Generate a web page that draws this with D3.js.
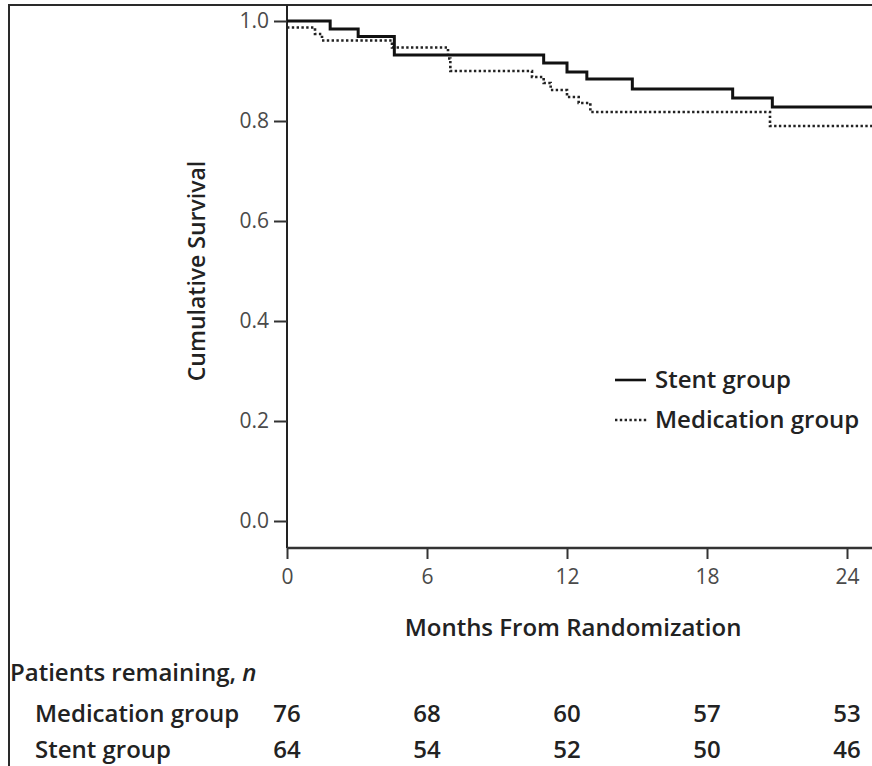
<!DOCTYPE html>
<html>
<head>
<meta charset="utf-8">
<script src="https://cdn.jsdelivr.net/npm/d3@7"></script>
<style>
  html, body { margin: 0; padding: 0; background: #fff; }
  svg { display: block; font-family: "Open Sans", Lato, sans-serif; }
</style>
</head>
<body>
<svg id="chart" width="872" height="766"></svg>
<script>
// Kaplan-Meier survival estimates (time in months, cumulative survival)
const monthTicks = [0, 6, 12, 18, 24];
const survivalTicks = [0, 0.2, 0.4, 0.6, 0.8, 1.0];

const stentTimes    = [0, 1.85, 3.05, 4.6, 11.0, 12.0, 12.85, 14.8, 19.1, 20.8];
const stentSurvival = [1.0, 0.984, 0.969, 0.932, 0.916, 0.898, 0.884, 0.864, 0.846, 0.828];

const medTimes    = [0, 1.2, 1.5, 4.5, 6.9, 7.0, 10.5, 11.0, 11.3, 12.0, 12.5, 13.0, 20.7];
const medSurvival = [0.987, 0.974, 0.961, 0.947, 0.925, 0.90, 0.888, 0.876, 0.862, 0.848, 0.836, 0.818, 0.79];

const followUpEnd = 25.2;

// Number at risk table
const groupNames = ["Medication group", "Stent group"];
const medicationAtRisk = [76, 68, 60, 57, 53];
const stentAtRisk = [64, 54, 52, 50, 46];

const W = 872, H = 766;
const svg = d3.select("#chart");
const FONT = "'Open Sans', Lato, sans-serif";

const x = d3.scaleLinear().domain([0, 24]).range([287, 847]);
const y = d3.scaleLinear().domain([0, 1]).range([521, 21]);
const axisTop = 5, axisY = 548;

// frame
svg.append("path")
  .attr("d", `M9,${H}V5H${W}`)
  .attr("fill", "none").attr("stroke", "#2a2a2a").attr("stroke-width", 2);

// y axis
const gy = svg.append("g").attr("transform", `translate(${x(0)},0)`)
  .call(d3.axisLeft(y).tickValues(survivalTicks).tickFormat(d3.format(".1f"))
        .tickSize(13).tickSizeOuter(0).tickPadding(5));
gy.select(".domain").attr("d", `M0,${axisTop}V${axisY}`)
  .attr("stroke", "#222").attr("stroke-width", 2);
gy.selectAll(".tick line").attr("stroke", "#333").attr("stroke-width", 2);
gy.selectAll(".tick text").attr("font-size", 21).attr("fill", "#4a4a4a")
  .attr("font-family", FONT);

// x axis
const gx = svg.append("g").attr("transform", `translate(0,${axisY})`)
  .call(d3.axisBottom(x).tickValues(monthTicks).tickSize(11).tickSizeOuter(0).tickPadding(10));
gx.select(".domain").attr("d", `M${x(0)},0H${W}`)
  .attr("stroke", "#333").attr("stroke-width", 2.6);
gx.selectAll(".tick line").attr("stroke", "#333").attr("stroke-width", 2);
gx.selectAll(".tick text").attr("font-size", 21).attr("fill", "#4a4a4a")
  .attr("font-family", FONT);

// axis titles
svg.append("text")
  .attr("transform", `translate(205,${y(0.5)}) rotate(-90)`)
  .attr("text-anchor", "middle")
  .attr("font-size", 23).attr("font-weight", 600).attr("fill", "#222")
  .text("Cumulative Survival");

svg.append("text")
  .attr("x", (x(0) + x(24)) / 2 + 6).attr("y", 636)
  .attr("text-anchor", "middle")
  .attr("font-size", 24).attr("font-weight", 600).attr("fill", "#222")
  .text("Months From Randomization");

// survival curves
const steps = (times, surv) => {
  const pts = times.map((t, i) => [t, surv[i]]);
  pts.push([followUpEnd, surv[surv.length - 1]]);
  return pts;
};
const line = d3.line().x(d => x(d[0])).y(d => y(d[1])).curve(d3.curveStepAfter);

svg.append("path").datum(steps(medTimes, medSurvival))
  .attr("d", line).attr("fill", "none")
  .attr("stroke", "#222").attr("stroke-width", 2.6).attr("stroke-dasharray", "2.4,2.4");

svg.append("path").datum(steps(stentTimes, stentSurvival))
  .attr("d", line).attr("fill", "none")
  .attr("stroke", "#111").attr("stroke-width", 3);

// legend
const legend = svg.append("g").attr("transform", "translate(615,380)");
legend.append("line").attr("x1", 0).attr("x2", 31).attr("y1", 0).attr("y2", 0)
  .attr("stroke", "#111").attr("stroke-width", 2.6);
legend.append("line").attr("x1", 0).attr("x2", 33).attr("y1", 40).attr("y2", 40)
  .attr("stroke", "#222").attr("stroke-width", 2.4).attr("stroke-dasharray", "2.4,2.4");
legend.append("text").attr("x", 40).attr("y", 8)
  .attr("font-size", 24).attr("font-weight", 600).attr("fill", "#222").text("Stent group");
legend.append("text").attr("x", 40).attr("y", 48)
  .attr("font-size", 24).attr("font-weight", 600).attr("fill", "#222").text("Medication group");

// numbers at risk
const risk = svg.append("g");
const title = risk.append("text").attr("x", 10).attr("y", 681)
  .attr("font-size", 24).attr("font-weight", 600).attr("fill", "#222");
title.append("tspan").text("Patients remaining, ");
title.append("tspan").attr("font-style", "italic").text("n");

[medicationAtRisk, stentAtRisk].forEach((row, i) => {
  const rowY = 722 + i * 36;
  risk.append("text").attr("x", 35).attr("y", rowY)
    .attr("font-size", 24).attr("font-weight", 600).attr("fill", "#222")
    .text(groupNames[i]);
  risk.selectAll(null).data(row).join("text")
    .attr("x", (d, j) => x(monthTicks[j]))
    .attr("y", rowY)
    .attr("text-anchor", "middle")
    .attr("font-size", 24).attr("font-weight", 600).attr("fill", "#222")
    .text(d => d);
});
</script>
</body>
</html>
